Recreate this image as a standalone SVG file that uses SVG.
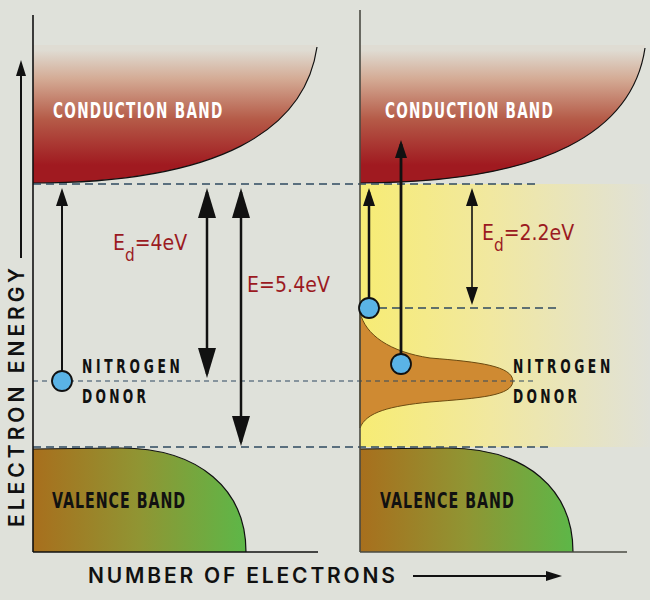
<svg xmlns="http://www.w3.org/2000/svg" width="650" height="600" viewBox="0 0 650 600">
<defs>
<style>
.axis{stroke:#111;stroke-width:1.6;fill:none}
.axis2{stroke:#4a4a42;stroke-width:1.6;fill:none}
.dash{stroke:#2f4960;stroke-width:1.3;stroke-dasharray:8 5;fill:none}
.dash2{stroke:#2f4960;stroke-width:1.2;stroke-dasharray:5 4;fill:none}
.edge{stroke:#111;stroke-width:1.2;fill:none}
.dot{fill:#5ab3e6;stroke:#111;stroke-width:1.8}
.lbl{font-family:"DejaVu Sans Condensed","DejaVu Sans",sans-serif;font-weight:bold}
.ax{font-family:Inter,"DejaVu Sans",sans-serif;font-size:21px;font-weight:600;fill:#111}
.en{font-family:"DejaVu Sans Condensed","DejaVu Sans",sans-serif;font-size:21px;fill:#9b1a1f}
.arr{stroke:#111;fill:none}
</style>
<linearGradient id="cb" gradientUnits="userSpaceOnUse" x1="0" y1="50" x2="0" y2="165">
<stop offset="0" stop-color="#dfdcd3"/>
<stop offset="0.25" stop-color="#d4ab95"/>
<stop offset="0.6" stop-color="#b55b48"/>
<stop offset="1" stop-color="#a01a20"/>
</linearGradient>
<linearGradient id="vbL" gradientUnits="userSpaceOnUse" x1="33" y1="0" x2="246" y2="0">
<stop offset="0" stop-color="#a86f1d"/>
<stop offset="0.5" stop-color="#909533"/>
<stop offset="1" stop-color="#5db748"/>
</linearGradient>
<linearGradient id="vbR" gradientUnits="userSpaceOnUse" x1="360" y1="0" x2="573" y2="0">
<stop offset="0" stop-color="#a86f1d"/>
<stop offset="0.5" stop-color="#909533"/>
<stop offset="1" stop-color="#5db748"/>
</linearGradient>
<linearGradient id="glow" gradientUnits="userSpaceOnUse" x1="360" y1="0" x2="650" y2="0">
<stop offset="0" stop-color="#f7ec74"/>
<stop offset="0.45" stop-color="#f1e8a0"/>
<stop offset="1" stop-color="#e0e1d8"/>
</linearGradient>
<marker id="hs" markerUnits="userSpaceOnUse" viewBox="0 0 18 12" markerWidth="18" markerHeight="12" refX="14" refY="6" orient="auto-start-reverse">
<path d="M0,0 L18,6 L0,12 Z" fill="#111"/>
</marker>
<marker id="hl" markerUnits="userSpaceOnUse" viewBox="0 0 30 18" markerWidth="30" markerHeight="18" refX="26" refY="9" orient="auto-start-reverse">
<path d="M0,0 L30,9 L0,18 Z" fill="#111"/>
</marker>
<marker id="ha" markerUnits="userSpaceOnUse" viewBox="0 0 16 10" markerWidth="16" markerHeight="10" refX="12" refY="5" orient="auto">
<path d="M0,0 L16,5 L0,10 Z" fill="#111"/>
</marker>
</defs>
<rect x="0" y="0" width="650" height="600" fill="#dfe1da"/>

<g id="right-glow">
<rect x="360" y="184" width="290" height="263" fill="url(#glow)"/>
</g>

<g id="left-conduction-band">
<path d="M33,183 C220,183 305,130 317,47 L317,45 L33,45 Z" fill="url(#cb)"/>
<path class="edge" d="M33,183 C220,183 305,130 317,47"/>
<text class="lbl" transform="translate(53,118) scale(0.72,1)" x="0" y="0" font-size="21" fill="#fff" textLength="235" lengthAdjust="spacing">CONDUCTION BAND</text>
</g>

<g id="right-conduction-band">
<path d="M360,183 C548,183 633,130 645,48 L645,45 L360,45 Z" fill="url(#cb)"/>
<path class="edge" d="M360,183 C548,183 633,130 645,48"/>
<text class="lbl" transform="translate(385,118) scale(0.72,1)" x="0" y="0" font-size="21" fill="#fff" textLength="233" lengthAdjust="spacing">CONDUCTION BAND</text>
</g>

<g id="left-valence-band">
<path d="M33,449 L120,448 C200,448 246,490 246,552 L33,552 Z" fill="url(#vbL)"/>
<path class="edge" d="M33,449 L120,448 C200,448 246,490 246,552"/>
<text class="lbl" transform="translate(52,508) scale(0.72,1)" x="0" y="0" font-size="22" fill="#111" textLength="185" lengthAdjust="spacing">VALENCE BAND</text>
</g>

<g id="right-valence-band">
<path d="M360,449 L447,448 C527,448 573,490 573,552 L360,552 Z" fill="url(#vbR)"/>
<path class="edge" d="M360,449 L447,448 C527,448 573,490 573,552"/>
<text class="lbl" transform="translate(380,508) scale(0.72,1)" x="0" y="0" font-size="22" fill="#111" textLength="186" lengthAdjust="spacing">VALENCE BAND</text>
</g>

<g id="donor-distribution">
<path d="M360,312 C365,335 390,352 430,358 C480,362 512,366 513,381 C512,396 480,398 430,402 C390,406 366,412 360,428 Z" fill="#cf8a32" stroke="#6b4a10" stroke-width="1"/>
</g>

<g id="levels">
<line class="dash" x1="33" y1="184" x2="535" y2="184"/>
<line class="dash2" x1="33" y1="381" x2="535" y2="381"/>
<line class="dash" x1="33" y1="447" x2="548" y2="447"/>
<line class="dash" x1="379" y1="308" x2="557" y2="308"/>
</g>

<g id="axes">
<line class="axis" x1="33" y1="15" x2="33" y2="552"/>
<line class="axis" x1="33" y1="552" x2="318" y2="552"/>
<line class="axis2" x1="360" y1="10" x2="360" y2="552"/>
<line class="axis2" x1="360" y1="552" x2="627" y2="552"/>
</g>

<g id="connectors">
<line class="arr" stroke-width="2" x1="62" y1="372" x2="62" y2="192" marker-end="url(#hs)"/>
<line class="arr" stroke-width="2.5" x1="207" y1="192" x2="207" y2="374" marker-start="url(#hl)" marker-end="url(#hl)"/>
<line class="arr" stroke-width="2.5" x1="241" y1="192" x2="241" y2="442" marker-start="url(#hl)" marker-end="url(#hl)"/>
<line class="arr" stroke-width="2.5" x1="369" y1="299" x2="369" y2="192" marker-end="url(#hs)"/>
<line class="arr" stroke-width="2.8" x1="401" y1="355" x2="401" y2="144" marker-end="url(#hs)"/>
<line class="arr" stroke-width="1.6" x1="472" y1="192" x2="472" y2="301" marker-start="url(#hs)" marker-end="url(#hs)"/>
<line class="arr" stroke-width="2" x1="21" y1="258" x2="21" y2="64" marker-end="url(#ha)"/>
<line class="arr" stroke-width="2" x1="413" y1="576" x2="558" y2="576" marker-end="url(#ha)"/>
</g>

<g id="left-donor">
<circle class="dot" cx="62" cy="381" r="10"/>
<text class="lbl" transform="translate(82,373) scale(0.72,1)" x="0" y="0" font-size="19" fill="#111" textLength="136" lengthAdjust="spacing">NITROGEN</text>
<text class="lbl" transform="translate(82,403) scale(0.72,1)" x="0" y="0" font-size="19" fill="#111" textLength="89" lengthAdjust="spacing">DONOR</text>
</g>

<g id="right-donor">
<circle class="dot" cx="369" cy="308" r="10"/>
<circle class="dot" cx="401" cy="364" r="10"/>
<text class="lbl" transform="translate(513,373) scale(0.72,1)" x="0" y="0" font-size="19" fill="#111" textLength="135" lengthAdjust="spacing">NITROGEN</text>
<text class="lbl" transform="translate(513,403) scale(0.72,1)" x="0" y="0" font-size="19" fill="#111" textLength="89" lengthAdjust="spacing">DONOR</text>
</g>

<g id="energy-labels">
<text class="en" x="113" y="250">E<tspan dy="11" font-size="17">d</tspan><tspan dy="-11">=4eV</tspan></text>
<text class="en" x="247" y="292" textLength="83" lengthAdjust="spacing">E=5.4eV</text>
<text class="en" x="482" y="240">E<tspan dy="11" font-size="17">d</tspan><tspan dy="-11">=2.2eV</tspan></text>
</g>

<g id="axis-labels">
<text class="ax" transform="translate(24,527) rotate(-90)" x="0" y="0" textLength="259" lengthAdjust="spacing">ELECTRON ENERGY</text>
<text class="ax" x="88" y="583" textLength="307" lengthAdjust="spacing">NUMBER OF ELECTRONS</text>
</g>
</svg>
